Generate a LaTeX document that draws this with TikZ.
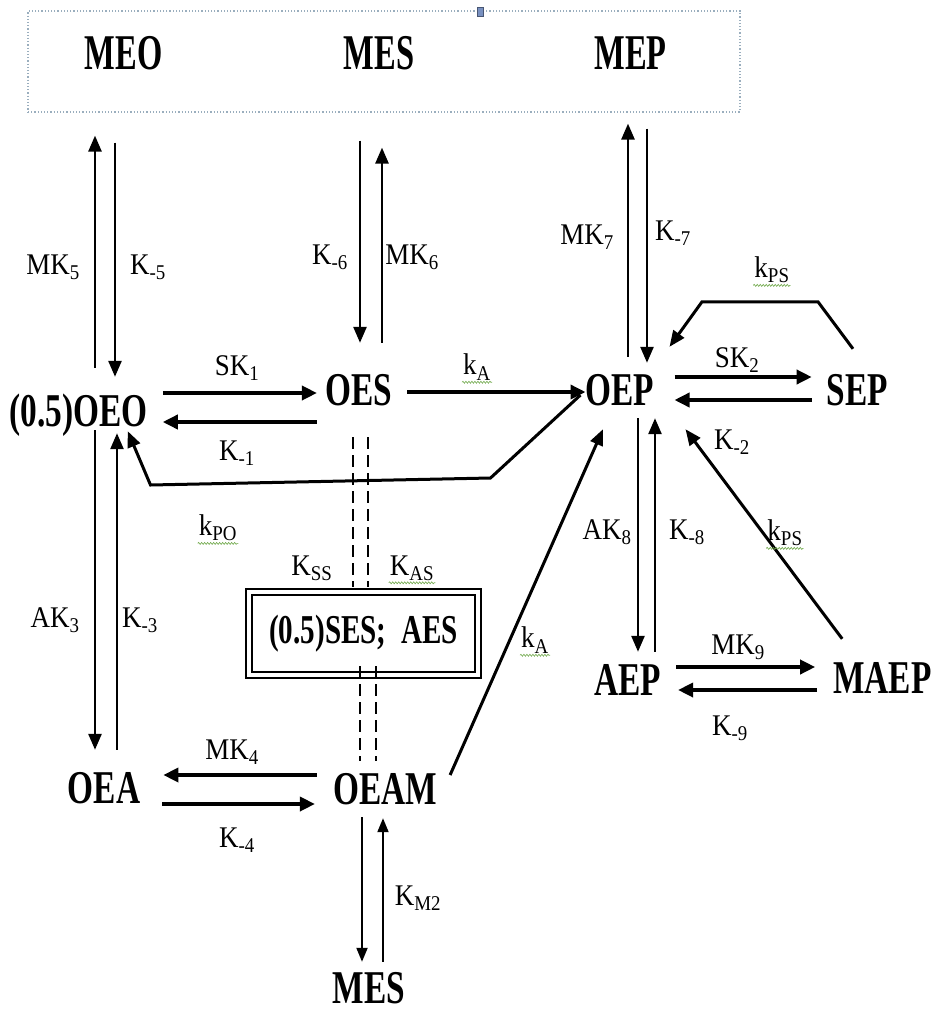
\documentclass[tikz,border=0pt]{standalone}
\usepackage{fontspec}
\setmainfont{Liberation Serif}
\newfontfamily\spfont{Liberation Serif}[FakeStretch=0.71]
\newfontfamily\medfont{Liberation Serif}[FakeStretch=0.65]
\newfontfamily\ratefont{Liberation Serif}[FakeStretch=0.9]
\usetikzlibrary{arrows.meta,positioning,calc,decorations.pathmorphing}
\definecolor{framegray}{HTML}{9AAEBE}
\definecolor{gripblue}{HTML}{7890C0}
\definecolor{spellgreen}{HTML}{6FA84A}
\tikzset{species/.style={inner sep=0pt,text height=31pt,text depth=0pt,font=\spfont\bfseries\fontsize{47}{47}\selectfont},medium/.style={species,text height=33pt,font=\medfont\bfseries\fontsize{50}{50}\selectfont},rate/.style={inner sep=1pt,font=\ratefont\fontsize{30}{30}\selectfont},pool/.style={draw,double,double distance=4pt,line width=2.2pt,minimum width=229.5pt,minimum height=83pt,inner sep=0pt,font=\spfont\bfseries\fontsize{41}{41}\selectfont},frame/.style={draw=framegray,dotted,line width=1.2pt,minimum width=712pt,minimum height=101pt,inner sep=0pt},grip/.style={draw=gripblue!60!black,fill=gripblue,minimum width=6pt,minimum height=9pt,inner sep=0pt},react/.style={-{Triangle[length=15pt,width=14pt]},line width=3.5pt},vreact/.style={-{Triangle[length=16pt,width=13pt]},line width=2.6pt},dreact/.style={-{Triangle[length=16pt,width=13pt]},line width=3pt},thinreact/.style={-{Triangle[length=14pt,width=11pt]},line width=2pt},link/.style={dashed,dash pattern=on 12pt off 6pt,line width=1.8pt},squiggle/.style={decorate,decoration={snake,amplitude=1pt,segment length=3pt},spellgreen,line width=.6pt}}

\begin{document}
\begin{tikzpicture}[x=1pt,y=-1pt]
\useasboundingbox (0,0) rectangle (943,1012);
% outer medium
\node[frame] (topbox) at (384,61.5) {};
\node[grip] (handle) at (480,12) {};
\node[medium] (meo) at (123.5,52.5) {MEO};
\node[medium] (mest) at (379,52.5) {MES};
\node[medium] (mep) at (630.5,52.5) {MEP};
% enzyme states
\node[species] (oeo) at (78.5,411) {(0.5)OEO};
\node[species] (oes) at (358.5,390) {OES};
\node[species] (oep) at (620,390) {OEP};
\node[species] (sep) at (857.5,390) {SEP};
\node[species] (aep) at (627.5,680) {AEP};
\node[species] (maep) at (882.5,678) {MAEP};
\node[species] (oea) at (104,788) {OEA};
\node[species] (oeam) at (385,789) {OEAM};
\node[species] (mesb) at (369,988) {MES};
\node[pool] (ssbox) at (363.5,633.5) {(0.5)SES;\ \ AES};
% exchange with the medium
\draw[vreact,shorten <=27.5pt,shorten >=23pt] ([xshift=16.5pt]oeo.north) -- ([xshift=16.5pt]oeo.north |- topbox.south);
\draw[vreact,shorten <=30pt,shorten >=18.5pt] ([xshift=36.5pt]oeo.north |- topbox.south) -- ([xshift=36.5pt]oeo.north);
\draw[vreact,shorten <=28pt,shorten >=31.5pt] ([xshift=1.5pt]oes.north |- topbox.south) -- ([xshift=1.5pt]oes.north);
\draw[vreact,shorten <=31.5pt,shorten >=35pt] ([xshift=23.5pt]oes.north) -- ([xshift=23.5pt]oes.north |- topbox.south);
\draw[vreact,shorten <=17.5pt,shorten >=11pt] ([xshift=8pt]oep.north) -- ([xshift=8pt]oep.north |- topbox.south);
\draw[vreact,shorten <=16pt,shorten >=11.5pt] ([xshift=27pt]oep.north |- topbox.south) -- ([xshift=27pt]oep.north);
% horizontal steps
\draw[react,shorten <=15pt,shorten >=8pt] ([yshift=18pt]oeo.east) -- ([yshift=18pt]oeo.east -| oes.west);
\draw[react,shorten <=8pt,shorten >=15pt] ([yshift=-11pt]oeo.east -| oes.west) -- ([yshift=-11pt]oeo.east);
\draw[react,shorten <=15pt] ([yshift=-2pt]oes.east) -- ([yshift=-2pt]oes.east -| oep.west);
\draw[react,shorten <=20pt,shorten >=15pt] ([yshift=13pt]oep.east) -- ([yshift=13pt]oep.east -| sep.west);
\draw[react,shorten <=15pt,shorten >=20pt] ([yshift=-10pt]oep.east -| sep.west) -- ([yshift=-10pt]oep.east);
\draw[react,shorten <=15pt,shorten >=18pt] ([yshift=13pt]aep.east) -- ([yshift=13pt]aep.east -| maep.west);
\draw[react,shorten <=16pt,shorten >=17pt] ([yshift=-10pt]aep.east -| maep.west) -- ([yshift=-10pt]aep.east);
\draw[react,shorten <=16pt,shorten >=23pt] ([yshift=13pt]oea.east -| oeam.west) -- ([yshift=13pt]oea.east);
\draw[react,shorten <=22pt,shorten >=18pt] ([yshift=-16pt]oea.east) -- ([yshift=-16pt]oea.east -| oeam.west);
% vertical steps
\draw[vreact,shorten <=3.5pt,shorten >=22.5pt] ([xshift=16.5pt]oeo.south) -- ([xshift=16.5pt]oeo.south |- oea.north);
\draw[vreact,shorten <=22.5pt,shorten >=6.5pt] ([xshift=38.5pt]oeo.south |- oea.north) -- ([xshift=38.5pt]oeo.south);
\draw[vreact,shorten <=12.5pt,shorten >=12.5pt] ([xshift=18pt]oep.south) -- ([xshift=18pt]oep.south |- aep.north);
\draw[vreact,shorten <=12.5pt,shorten >=12.5pt] ([xshift=35pt]oep.south |- aep.north) -- ([xshift=35pt]oep.south);
\draw[thinreact,shorten <=12.5pt,shorten >=10.5pt] ([xshift=-23pt]oeam.south) -- ([xshift=-23pt]oeam.south |- mesb.north);
\draw[thinreact,shorten <=10.5pt,shorten >=13.5pt] ([xshift=-2pt]oeam.south |- mesb.north) -- ([xshift=-2pt]oeam.south);
% release of product
\draw[dreact] ([xshift=9pt,yshift=23.5pt]maep.north west) -- ([xshift=31pt,yshift=-23.5pt]oep.south east);
\draw[dreact] ([xshift=13pt,yshift=14pt]oeam.east) -- ([xshift=-17pt,yshift=-23.5pt]oep.south);
\draw[dreact] ([xshift=-5pt,yshift=-5pt]oep.west) -- ++(-90,83) -- ++(-340,7) -- ([xshift=-20pt,yshift=-4.5pt]oeo.south east);
\draw[dreact] ([xshift=-4.5pt,yshift=25.5pt]sep.north) -- ++(-35,-47) -- ++(-116,0) -- ([xshift=15pt,yshift=27.5pt]oep.north east);
% links to the substrate pool
\draw[link,shorten <=31.5pt,shorten >=4pt] ([xshift=-5.5pt]oes.south) -- ([xshift=-5.5pt]oes.south |- ssbox.north);
\draw[link,shorten <=31.5pt,shorten >=4pt] ([xshift=9.5pt]oes.south) -- ([xshift=9.5pt]oes.south |- ssbox.north);
\draw[link,shorten >=12.5pt] ([xshift=-25pt,yshift=10pt]oeam.north |- ssbox.south) -- ([xshift=-25pt]oeam.north);
\draw[link,shorten >=12.5pt] ([xshift=-9pt,yshift=10pt]oeam.north |- ssbox.south) -- ([xshift=-9pt]oeam.north);
% rate constants
\node[rate] (r-mk5) at (53,267) {MK\textsubscript{5}};
\node[rate] (r-k5) at (148,267) {K\textsubscript{-5}};
\node[rate] (r-k6) at (330,257) {K\textsubscript{-6}};
\node[rate] (r-mk6) at (412,257) {MK\textsubscript{6}};
\node[rate] (r-mk7) at (587,237) {MK\textsubscript{7}};
\node[rate] (r-k7) at (673,233) {K\textsubscript{-7}};
\node[rate] (r-kps1) at (772,270) {k\textsubscript{PS}};
\node[rate] (r-sk1) at (237,368) {SK\textsubscript{1}};
\node[rate] (r-k1) at (237,453) {K\textsubscript{-1}};
\node[rate] (r-ka1) at (477,367) {k\textsubscript{A}};
\node[rate] (r-sk2) at (737,360) {SK\textsubscript{2}};
\node[rate] (r-k2) at (732,442) {K\textsubscript{-2}};
\node[rate] (r-kpo) at (218,528) {k\textsubscript{PO}};
\node[rate] (r-kss) at (312,568) {K\textsubscript{SS}};
\node[rate] (r-kas) at (412,568) {K\textsubscript{AS}};
\node[rate] (r-ak3) at (55,620) {AK\textsubscript{3}};
\node[rate] (r-k3) at (140,620) {K\textsubscript{-3}};
\node[rate] (r-ak8) at (607,532) {AK\textsubscript{8}};
\node[rate] (r-k8) at (687,532) {K\textsubscript{-8}};
\node[rate] (r-kps2) at (785,533) {k\textsubscript{PS}};
\node[rate] (r-ka2) at (535,640) {k\textsubscript{A}};
\node[rate] (r-mk9) at (738,647) {MK\textsubscript{9}};
\node[rate] (r-k9) at (730,728) {K\textsubscript{-9}};
\node[rate] (r-mk4) at (232,752) {MK\textsubscript{4}};
\node[rate] (r-k4) at (237,840) {K\textsubscript{-4}};
\node[rate] (r-km2) at (418,898) {K\textsubscript{M2}};
% spelling marks
\foreach \r in {r-ka1,r-kps1,r-kpo,r-kas,r-kps2,r-ka2}{\draw[squiggle] ([yshift=-1pt]\r.south west) -- ([yshift=-1pt]\r.south east);}
\end{tikzpicture}
\end{document}
